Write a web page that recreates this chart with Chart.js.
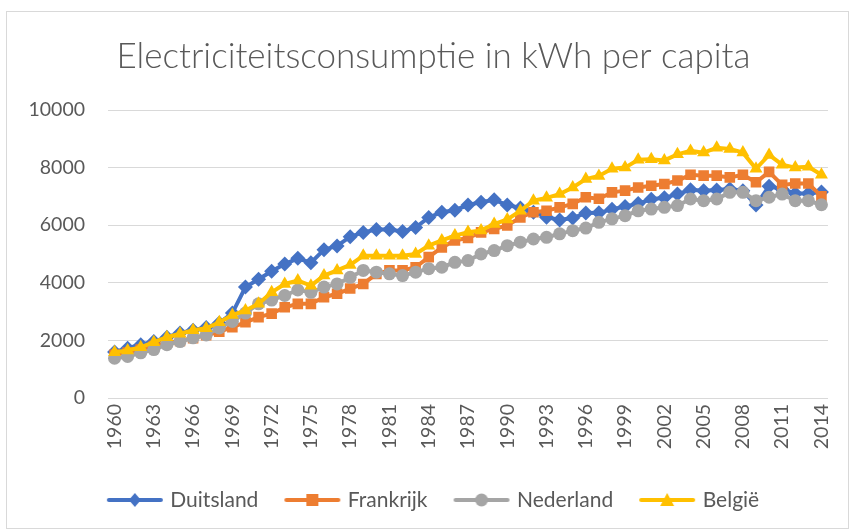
<!DOCTYPE html>
<html>
<head>
<meta charset="utf-8">
<script src="https://cdn.jsdelivr.net/npm/chart.js@4"></script>
<style>
html,body{margin:0;padding:0;background:#fff;}
#wrap{width:851px;height:531px;position:relative;}
</style>
</head>
<body>
<div id="wrap"><canvas id="c" width="851" height="531"></canvas></div>
<script>
const years = ['1960','1961','1962','1963','1964','1965','1966','1967','1968','1969','1970','1971','1972','1973','1974','1975','1976','1977','1978','1979','1980','1981','1982','1983','1984','1985','1986','1987','1988','1989','1990','1991','1992','1993','1994','1995','1996','1997','1998','1999','2000','2001','2002','2003','2004','2005','2006','2007','2008','2009','2010','2011','2012','2013','2014'];
const xTickLabels = ['1960','1963','1966','1969','1972','1975','1978','1981','1984','1987','1990','1993','1996','1999','2002','2005','2008','2011','2014'];
const yTickValues = [0,2000,4000,6000,8000,10000];

const duitsland = [1600,1730,1850,1960,2110,2260,2350,2450,2600,2950,3850,4120,4400,4650,4850,4700,5150,5280,5600,5750,5850,5850,5780,5920,6270,6450,6520,6700,6800,6880,6700,6600,6450,6280,6180,6250,6420,6430,6550,6650,6750,6900,6950,7080,7230,7200,7220,7260,7200,6700,7350,7250,7100,7100,7150];
const frankrijk = [1500,1580,1680,1800,1920,1980,2080,2180,2300,2460,2630,2810,2930,3150,3270,3270,3500,3620,3800,3960,4310,4430,4430,4540,4890,5230,5470,5560,5750,5870,5990,6270,6450,6500,6620,6740,6970,6920,7140,7200,7310,7370,7430,7550,7750,7720,7720,7660,7750,7490,7850,7400,7450,7450,7000];
const nederland = [1380,1440,1570,1680,1850,1960,2090,2190,2430,2660,2950,3270,3400,3560,3750,3670,3850,3960,4190,4430,4370,4310,4250,4370,4490,4540,4710,4770,5000,5120,5290,5410,5520,5580,5700,5810,5900,6100,6220,6330,6500,6560,6620,6680,6910,6850,6910,7140,7140,6850,6970,7080,6850,6850,6710];
const belgie = [1590,1650,1760,1940,2110,2230,2350,2420,2630,2880,3040,3270,3670,3960,4080,3900,4250,4430,4620,4940,4940,4940,4940,5000,5290,5470,5640,5760,5820,6040,6200,6500,6850,6950,7080,7310,7600,7710,7960,8000,8270,8290,8250,8460,8580,8520,8690,8650,8520,7960,8440,8100,8000,8030,7750];

const seriesNames = ['Duitsland','Frankrijk','Nederland','België'];
const seriesColors = ['#4472C4','#ED7D31','#A5A5A5','#FFC000'];
const seriesStyles = ['rectRot','rect','circle','triangle'];
const seriesData = [duitsland, frankrijk, nederland, belgie];

const FONT = 'Lato, "Open Sans", sans-serif';
const TXT = '#595959';

function legendIcon(color, style){
  const cv = document.createElement('canvas');
  cv.width = 58; cv.height = 16;
  const g = cv.getContext('2d');
  g.strokeStyle = color; g.lineWidth = 4; g.lineCap = 'round';
  g.beginPath(); g.moveTo(3, 8); g.lineTo(55, 8); g.stroke();
  g.fillStyle = color;
  const cx = 29, cy = 8;
  g.beginPath();
  if (style === 'rectRot') { g.moveTo(cx, cy-7); g.lineTo(cx+6, cy); g.lineTo(cx, cy+7); g.lineTo(cx-6, cy); }
  else if (style === 'rect') { g.rect(cx-6, cy-6, 12, 12); }
  else if (style === 'circle') { g.arc(cx, cy, 6.5, 0, Math.PI*2); }
  else { g.moveTo(cx, cy-7); g.lineTo(cx+7, cy+6); g.lineTo(cx-7, cy+6); }
  g.closePath(); g.fill();
  return cv;
}
const icons = seriesNames.map((n,i)=>legendIcon(seriesColors[i], seriesStyles[i]));

const datasets = seriesNames.map((name,i)=>({
  label: name,
  data: seriesData[i],
  borderColor: seriesColors[i],
  backgroundColor: seriesColors[i],
  borderWidth: 4,
  pointStyle: seriesStyles[i],
  pointRadius: seriesStyles[i]==='circle' ? 6.5 : 7.5,
  pointBorderWidth: 0,
  tension: 0,
  order: 4 - i
}));

const framePlugin = {
  id: 'frame',
  afterLayout(chart){
    if (chart.legend) { chart.legend.left += 9; chart.legend.right += 9; }
    if (chart.titleBlock) { chart.titleBlock.left += 8; chart.titleBlock.right += 8; }
  },
  beforeDraw(chart){
    const ctx = chart.ctx;
    ctx.save();
    ctx.fillStyle = '#fff';
    ctx.fillRect(0,0,chart.width,chart.height);
    ctx.strokeStyle = '#d9d9d9';
    ctx.lineWidth = 1;
    ctx.strokeRect(6.5, 11.5, 842, 517);
    ctx.restore();
  }
};

new Chart(document.getElementById('c'), {
  type: 'line',
  data: { labels: years, datasets },
  plugins: [framePlugin],
  options: {
    responsive: false,
    animation: false,
    layout: { padding: { top: 12, bottom: 10.5, left: 18, right: 18 } },
    plugins: {
      tooltip: { enabled: false },
      title: {
        display: true,
        text: 'Electriciteitsconsumptie in kWh per capita',
        color: TXT,
        font: { family: FONT, size: 35, weight: 300 },
        padding: { top: 24, bottom: 32 }
      },
      legend: {
        position: 'bottom',
        labels: {
          color: TXT,
          font: { family: FONT, size: 21 },
          usePointStyle: true,
          pointStyleWidth: 50,
          boxHeight: 16,
          padding: 29,
          generateLabels(chart){
            return seriesNames.map((n,i)=>({
              text: n, fillStyle: seriesColors[i], strokeStyle: seriesColors[i],
              lineWidth: 0, pointStyle: icons[i], datasetIndex: i, hidden: false, fontColor: TXT
            }));
          }
        }
      }
    },
    scales: {
      x: {
        offset: true,
        grid: { display: false, drawTicks: false },
        border: { display: true, color: '#d9d9d9', width: 1 },
        ticks: {
          autoSkip: false,
          maxRotation: 90, minRotation: 90,
          color: TXT,
          padding: 6,
          font: { family: FONT, size: 19.5 },
          callback(v, idx){ const l = years[idx]; return xTickLabels.includes(l) ? l : ''; }
        },
        afterFit(scale){ scale.height = 62.5; }
      },
      y: {
        min: 0, max: 10000,
        afterBuildTicks(scale){ scale.ticks = yTickValues.map(v=>({value:v})); },
        grid: { color: '#d9d9d9', lineWidth: 1, drawTicks: false },
        border: { display: false },
        ticks: {
          color: TXT,
          padding: 23,
          font: { family: FONT, size: 19.5 },
          callback(v){ return String(v); }
        },
        afterFit(scale){ scale.width = 90; }
      }
    }
  }
});
</script>
</body>
</html>
